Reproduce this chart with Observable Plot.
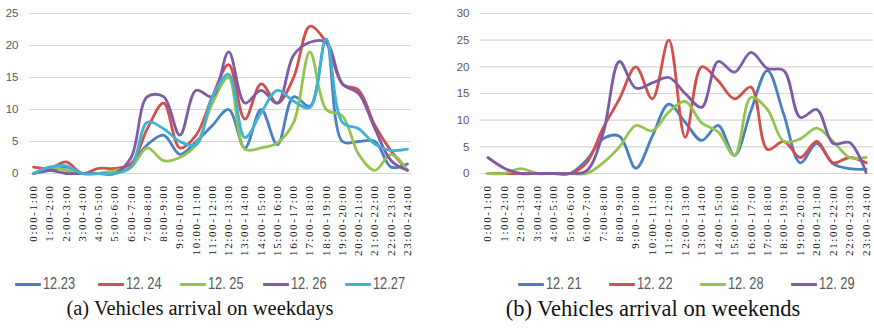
<!DOCTYPE html>
<html><head><meta charset="utf-8">
<script src="https://cdn.jsdelivr.net/npm/d3@7"></script>
<script src="https://cdn.jsdelivr.net/npm/@observablehq/plot@0.6"></script>
<style>
body{margin:0;background:#fff;}
#root{position:relative;width:874px;height:329px;overflow:hidden;background:#fff;}
.panel{position:absolute;top:0;}
.panel svg{overflow:visible;}
g[aria-label="x-axis tick label"] text{font-family:"Liberation Serif","Times New Roman",serif;letter-spacing:1.6px;fill:#111;}
g[aria-label="y-axis tick label"] text{font-family:"Liberation Sans",Arial,sans-serif;fill:#595959;}
.legend{position:absolute;top:275px;display:flex;font-family:"Liberation Sans",Arial,sans-serif;font-size:16px;color:#595959;}
.legend .item{display:flex;align-items:center;}
.legend .sw{width:26px;height:3px;margin-right:2px;border-radius:1px;flex:none;}
.legend .tx{display:inline-block;transform:scaleX(0.8);transform-origin:left center;white-space:nowrap;}
.caption{position:absolute;font-family:"Liberation Serif","Times New Roman",serif;color:#111;white-space:nowrap;transform:translateX(-50%);}
</style></head><body><div id="root"></div>
<script>
// x categories (hour intervals)
const hours = ["0:00-1:00","1:00-2:00","2:00-3:00","3:00-4:00","4:00-5:00","5:00-6:00","6:00-7:00","7:00-8:00","8:00-9:00","9:00-10:00","10:00-11:00","11:00-12:00","12:00-13:00","13:00-14:00","14:00-15:00","15:00-16:00","16:00-17:00","17:00-18:00","18:00-19:00","19:00-20:00","20:00-21:00","21:00-22:00","22:00-23:00","23:00-24:00"];

// (a) weekdays
const weekdayDates = ["12.23","12. 24","12. 25","12. 26","12.27"];
const wd1223 = [0,0.5,1,0,0,0,1.5,4.5,6,3,5,7.5,10,4,10,4.5,12,10.5,21,5,5,5,1,1.5];
const wd1224 = [1,0.8,1.8,0,0.8,0.8,1.5,7,11,4,6,12,17,8.5,14,11,15,23,20.5,14,13,7.5,3.5,0.5];
const wd1225 = [0,1,0.5,0,0,0.5,1,4,2,2.5,4.5,11,15,3.8,4,4.8,8,19,10,9,3,0.5,3,0.5];
const wd1226 = [0,0.5,0,0,0,0,2.5,12,12,6,13,12,19,11,13,11,18.5,20.5,20.5,14,12.5,7,2,0.5];
const wd1227 = [0,1,1.2,0,0,0,1,8,7,5,4.5,12,15.5,5.6,9.5,13,11.3,10.3,21,8,7,4.6,3.6,3.8];
const weekdaySeries = [wd1223, wd1224, wd1225, wd1226, wd1227];
const weekdayTicks = [0,5,10,15,20,25];

// (b) weekends
const weekendDates = ["12. 21","12. 22","12. 28","12. 29"];
const we1221 = [0,0,0,0,0,0,2.5,6.5,7,1,7,13,9.6,6.2,9,3.4,11.8,19.3,11,2,5.6,1.8,0.9,0.8];
const we1222 = [0,0,0,0,0,0,2,8.5,14,20,14,25,6.8,20,17.4,14,16.2,4.5,6,3,6,2,3,2];
const we1228 = [0,0,0.9,0,0,0,0,2,5,9,8,11.5,13.5,9.5,7.8,3.4,14.3,12,6,6.5,8.5,6,3,3];
const we1229 = [3,1,0,0,0,0,0.5,7.5,21,16,17,18,15,12.4,21,19,22.7,19.7,19.3,10.5,12,5.6,5.8,0.2];
const weekendSeries = [we1221, we1222, we1228, we1229];
const weekendTicks = [0,5,10,15,20,25,30];

// colours
const weekdayColors = ["#4a7fc4","#d24f4b","#93c450","#7f5ba6","#3fb3d4"];
const weekendColors = ["#4a7fc4","#d24f4b","#93c450","#7f5ba6"];

function tidy(dates, series){
  const rows = [];
  series.forEach((vals, s) => vals.forEach((v, i) => rows.push({hour: hours[i], value: v, series: dates[s]})));
  return rows;
}

function makePlot(dates, series, colors, ticks, opts){
  return Plot.plot({
    width: opts.width, height: 265,
    marginLeft: opts.ml, marginRight: opts.mr, marginTop: 13, marginBottom: 92,
    x: {type: "point", domain: hours, padding: opts.pad, round: false, label: null},
    y: {domain: [0, d3.max(ticks)], label: null},
    color: {domain: dates, range: colors},
    style: {background: "transparent", overflow: "visible"},
    marks: [
      Plot.ruleY(ticks, {stroke: "#d6d6d6", strokeWidth: 1.2}),
      Plot.axisY(ticks, {tickSize: 0, tickPadding: opts.tp, fontSize: 11.5, label: null, color: "#595959"}),
      Plot.axisX({tickSize: 0, tickRotate: -90, tickPadding: 11, fontSize: 11, label: null, color: "#111"}),
      Plot.line(tidy(dates, series), {x: "hour", y: "value", z: "series", stroke: "series", curve: "catmull-rom", strokeWidth: 2.8, strokeLinejoin: "round", strokeLinecap: "round"})
    ]
  });
}

const root = document.getElementById("root");

function addPanel(left, plot){
  const d = document.createElement("div");
  d.className = "panel"; d.style.left = left + "px";
  d.appendChild(plot); root.appendChild(d);
}
addPanel(0, makePlot(weekdayDates, weekdaySeries, weekdayColors, weekdayTicks, {width: 420, ml: 29, mr: 9, pad: 0.25, tp: 11}));
addPanel(440, makePlot(weekendDates, weekendSeries, weekendColors, weekendTicks, {width: 434, ml: 40, mr: 1, pad: 0.45, tp: 11}));

function addLegend(left, itemWidth, dates, colors){
  const lg = document.createElement("div");
  lg.className = "legend"; lg.style.left = left + "px";
  dates.forEach((d, i) => {
    const it = document.createElement("div"); it.className = "item"; it.style.width = itemWidth + "px";
    const sw = document.createElement("span"); sw.className = "sw"; sw.style.background = colors[i];
    const tx = document.createElement("span"); tx.className = "tx"; tx.textContent = d;
    it.appendChild(sw); it.appendChild(tx); lg.appendChild(it);
  });
  root.appendChild(lg);
}
addLegend(15, 82.5, weekdayDates, weekdayColors);
addLegend(518, 91, weekendDates, weekendColors);

function addCaption(cx, top, size, text){
  const c = document.createElement("div"); c.className = "caption";
  c.style.left = cx + "px"; c.style.top = top + "px"; c.style.fontSize = size + "px";
  c.textContent = text; root.appendChild(c);
}
addCaption(200, 297, 20.5, "(a) Vehicles arrival on weekdays");
addCaption(653, 296, 22.5, "(b) Vehicles arrival on weekends");
</script></body></html>
